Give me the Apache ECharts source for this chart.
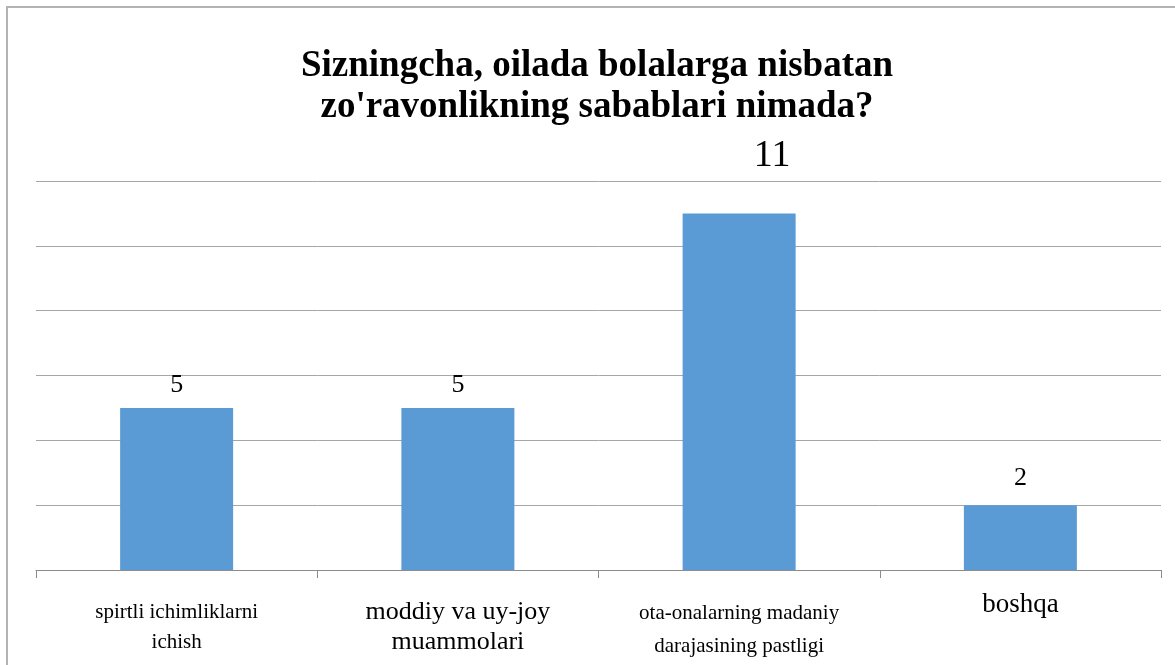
<!DOCTYPE html>
<html>
<head>
<meta charset="utf-8">
<script src="https://cdn.jsdelivr.net/npm/echarts@6/dist/echarts.min.js"></script>
<style>
html,body{margin:0;padding:0;background:#fff;}
#c{width:1175px;height:665px;}
</style>
</head>
<body>
<div id="c"></div>
<script>
const titleLines = ["Sizningcha, oilada bolalarga nisbatan", "zo'ravonlikning sabablari nimada?"];
const categories = ["spirtli ichimliklarni\nichish", "moddiy va uy-joy\nmuammolari", "ota-onalarning madaniy\ndarajasining pastligi", "boshqa"];
const categoryStyles = ["s", "m", "o", "b"];
const values = [5, 5, 11, 2];
const yTicks = [0, 2, 4, 6, 8, 10, 12];

const labelCfg = [
  {fontSize: 26, distance: 10, offset: [0, 0]},
  {fontSize: 26, distance: 10, offset: [0, 0]},
  {fontSize: 38, distance: 38, offset: [33, 0]},
  {fontSize: 26, distance: 14, offset: [0, 0]}
];

const serif = 'Liberation Serif';
const chart = echarts.init(document.getElementById('c'), null, {renderer: 'canvas'});

chart.setOption({
  backgroundColor: '#ffffff',
  animation: false,
  title: {
    text: titleLines.join('\n'),
    left: 592,
    top: 41,
    textAlign: 'center',
    textStyle: {fontFamily: serif, fontWeight: 'bold', fontSize: 37, lineHeight: 41, color: '#000'}
  },
  graphic: [{
    type: 'rect',
    shape: {x: 7, y: 7, width: 1200, height: 700},
    style: {fill: 'none', stroke: '#b3b3b3', lineWidth: 2},
    silent: true, z: 100
  }],
  grid: {left: 36, right: 14, top: 181, bottom: 95, containLabel: false},
  xAxis: {
    type: 'category',
    data: categories,
    axisLine: {show: true, lineStyle: {color: '#8c8c8c', width: 1}},
    axisTick: {show: true, alignWithLabel: false, length: 8, lineStyle: {color: '#8c8c8c'}},
    axisLabel: {
      interval: 0,
      margin: 27,
      fontFamily: serif,
      fontSize: 21,
      color: '#000',
      formatter: function (v, i) {
        const st = categoryStyles[i];
        return v.split('\n').map(function (l) { return '{' + st + '|' + l + '}'; }).join('\n');
      },
      rich: {
        s: {fontFamily: serif, fontSize: 21, lineHeight: 30, color: '#000'},
        m: {fontFamily: serif, fontSize: 26, lineHeight: 30, color: '#000'},
        o: {fontFamily: serif, fontSize: 21, lineHeight: 33, color: '#000'},
        b: {fontFamily: serif, fontSize: 27, lineHeight: 16, color: '#000'}
      }
    }
  },
  yAxis: {
    type: 'value',
    min: yTicks[0],
    max: yTicks[yTicks.length - 1],
    interval: yTicks[1] - yTicks[0],
    axisLine: {show: false},
    axisTick: {show: false},
    axisLabel: {show: false},
    splitLine: {show: true, lineStyle: {color: '#a6a6a6', width: 1}}
  },
  series: [{
    type: 'bar',
    barWidth: 113,
    itemStyle: {color: '#5b9bd5'},
    data: values.map(function (v, i) {
      return {
        value: v,
        label: {
          show: true,
          position: 'top',
          distance: labelCfg[i].distance,
          offset: labelCfg[i].offset,
          fontFamily: serif,
          fontSize: labelCfg[i].fontSize,
          color: '#000'
        }
      };
    })
  }]
});
</script>
</body>
</html>
